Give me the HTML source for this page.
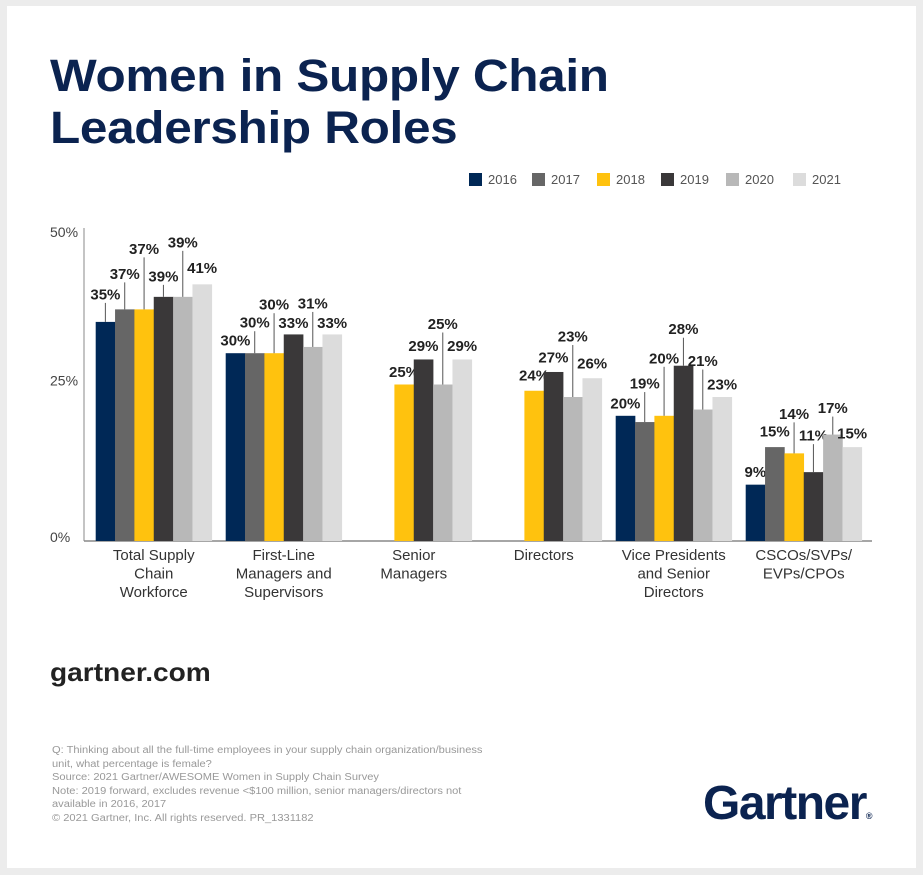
<!DOCTYPE html>
<html><head><meta charset="utf-8"><style>
html,body{margin:0;padding:0;}
body{width:923px;height:875px;background:#ececec;position:relative;overflow:hidden;font-family:"Liberation Sans",sans-serif;}
#card{position:absolute;left:7px;top:6px;width:909px;height:862px;background:#fff;}
.abs{position:absolute;margin:0;}
</style></head><body>
<div id="card"></div>
<h1 class="abs" style="left:50px;top:50px;font-size:45px;line-height:52px;font-weight:bold;color:#0b2350;letter-spacing:-0.3px;transform:scaleX(1.10);transform-origin:0 0;white-space:nowrap;">Women in Supply Chain<br>Leadership Roles</h1>
<svg id="chart" class="abs" style="left:0;top:0" width="923" height="640"></svg>
<div class="abs" style="left:50px;top:657px;font-size:26px;font-weight:bold;color:#222;transform:scaleX(1.08);transform-origin:0 0;">gartner.com</div>
<div class="abs" style="left:52px;top:744px;font-size:10px;line-height:13.5px;color:#999;width:520px;transform:scaleX(1.11);transform-origin:0 0;">Q: Thinking about all the full-time employees in your supply chain organization/business<br>unit, what percentage is female?<br>Source: 2021 Gartner/AWESOME Women in Supply Chain Survey<br>Note: 2019 forward, excludes revenue &lt;$100 million, senior managers/directors not<br>available in 2016, 2017<br>© 2021 Gartner, Inc. All rights reserved. PR_1331182</div>
<div class="abs" style="left:703px;top:776px;font-size:48px;font-weight:bold;color:#0b2350;letter-spacing:-1.5px;">Gartner<span style="font-size:9px;letter-spacing:0">®</span></div>
<script>
const years = ["2016","2017","2018","2019","2020","2021"];
const categories = [["Total Supply","Chain","Workforce"],["First-Line","Managers and","Supervisors"],["Senior","Managers"],["Directors"],["Vice Presidents","and Senior","Directors"],["CSCOs/SVPs/","EVPs/CPOs"]];
const v2016 = [35,30,null,null,20,9];
const v2017 = [37,30,null,null,19,15];
const v2018 = [37,30,25,24,20,14];
const v2019 = [39,33,29,27,28,11];
const v2020 = [39,31,25,23,21,17];
const v2021 = [41,33,29,26,23,15];
const yTicks = [0,25,50];
const series = [v2016,v2017,v2018,v2019,v2020,v2021];
const colors = ["#002856","#666666","#ffc20e","#3a3839","#b8b8b8","#dcdcdc"];
const labelLift = [[28,36,61,21,55,17],[13,31,49,12,44,12],[0,0,13,14,61,14],[0,0,16,15,61,15],[13,39,58,37,49,13],[13,16,40,37,27,14]];
const svg = document.getElementById('chart');
const NS = 'http://www.w3.org/2000/svg';
const baseY = 541, pxPer = 6.26, x0 = 95.7, groupStep = 130, barW = 19.35;
const y = v => baseY - v * pxPer;
const xb = (g, s) => x0 + g * groupStep + s * barW;
function mk(tag, attrs, text){const e=document.createElementNS(NS,tag);for(const k in attrs)e.setAttribute(k,attrs[k]);if(text!=null)e.textContent=text;svg.appendChild(e);return e;}
yTicks.forEach(t=>{
  const e=mk('text',{x:50,y:y(t)+(t===50?9:1),'font-size':14,fill:'#444','font-family':'Liberation Sans, sans-serif'},t+'%');
  
  
});
const ax=mk('line',{x1:84,y1:228,x2:84,y2:baseY,stroke:'#888','stroke-width':1});


const bx=mk('line',{x1:84,y1:baseY,x2:872,y2:baseY,stroke:'#888','stroke-width':1.5});


categories.forEach((c,g)=>{
  series.forEach((ser,s)=>{
    const v=ser[g]; if(v==null) return;
    const r=mk('rect',{x:xb(g,s),y:y(v),width:barW+0.3,height:v*pxPer,fill:colors[s]});
    
    
    const cx=xb(g,s)+barW/2, lift=labelLift[g][s], ly=y(v)-lift;
    if(lift>20){
      const l=mk('line',{x1:cx,y1:ly+9,x2:cx,y2:y(v),stroke:'#555','stroke-width':1});
      
      
    }
    const t=mk('text',{x:cx,y:ly+5.5,'text-anchor':'middle','font-size':15,'font-weight':'bold',fill:'#222','font-family':'Liberation Sans, sans-serif'},v+'%');
    
    
  });
  const gx=x0+g*groupStep+3*barW;
  c.forEach((line,i)=>{
    const t=mk('text',{x:gx,y:560+i*18.5,'text-anchor':'middle','font-size':15,fill:'#333','font-family':'Liberation Sans, sans-serif'},line);
    
    
  });
});
const legX=[469,532,597,661,726,793];
years.forEach((yr,i)=>{
  const r=mk('rect',{x:legX[i],y:173,width:13,height:13,fill:colors[i]});
  
  
  const t=mk('text',{x:legX[i]+19,y:184,'font-size':13,fill:'#555','font-family':'Liberation Sans, sans-serif'},yr);
  
  
});
</script>
</body></html>
